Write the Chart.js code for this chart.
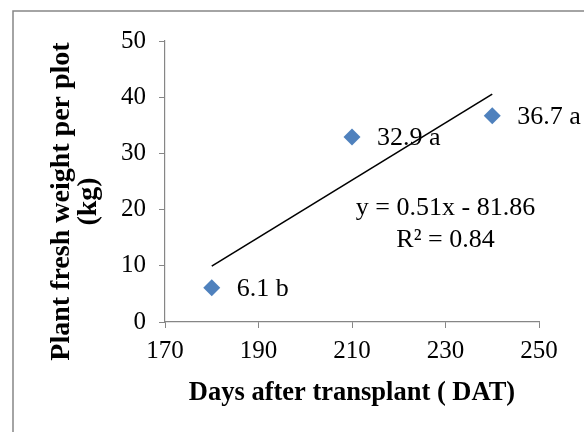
<!DOCTYPE html>
<html>
<head>
<meta charset="utf-8">
<script src="https://cdn.jsdelivr.net/npm/chart.js@4.4.0/dist/chart.umd.min.js"></script>
<style>
html,body{margin:0;padding:0;background:#fff;}
canvas{display:block;}
</style>
</head>
<body>
<canvas id="c" width="584" height="432"></canvas>
<script>
// ---- data ----
const daysAfterTransplant = [180, 210, 240];
const freshWeight = [6.1, 32.9, 36.7];
const pointLabels = ['6.1 b', '32.9 a', '36.7 a'];
const trendX = [180, 240];
const trendY = [9.94, 40.54];
const xTicks = [170, 190, 210, 230, 250];
const yTicks = [0, 10, 20, 30, 40, 50];
const equationLines = ['y = 0.51x - 81.86', 'R² = 0.84'];
const xTitle = 'Days after transplant ( DAT)';
const yTitleLines = ['Plant fresh weight per plot', '(kg)'];

const SERIF = '"Liberation Serif", "Times New Roman", serif';
const AXIS_GRAY = '#868686';

const framePlugin = {
  id: 'frame',
  beforeDraw(chart) {
    const ctx = chart.ctx;
    ctx.save();
    ctx.strokeStyle = AXIS_GRAY;
    ctx.lineWidth = 1.5;
    ctx.strokeRect(13, 11, 700, 600);
    ctx.restore();
  }
};

const textPlugin = {
  id: 'texts',
  afterDatasetsDraw(chart) {
    const ctx = chart.ctx;
    const xs = chart.scales.x, ys = chart.scales.y;
    ctx.save();
    ctx.fillStyle = '#000';
    // data labels
    ctx.font = '26px ' + SERIF;
    ctx.textAlign = 'left';
    ctx.textBaseline = 'middle';
    const meta = chart.getDatasetMeta(1);
    meta.data.forEach((pt, i) => {
      ctx.fillText(pointLabels[i], pt.x + 25, pt.y + 1);
    });
    // equation
    ctx.textAlign = 'center';
    ctx.fillText(equationLines[0], xs.getPixelForValue(230), ys.getPixelForValue(20.2));
    ctx.fillText(equationLines[1], xs.getPixelForValue(230), ys.getPixelForValue(14.5));
    // y title
    ctx.font = 'bold 28px ' + SERIF;
    const cy = (ys.top + ys.bottom) / 2 + 20;
    ctx.translate(0, cy);
    ctx.rotate(-Math.PI / 2);
    ctx.fillText(yTitleLines[0], 0, 62);
    ctx.fillText(yTitleLines[1], 0, 89);
    ctx.restore();
  }
};

new Chart(document.getElementById('c'), {
  type: 'scatter',
  data: {
    datasets: [
      {
        type: 'line',
        data: trendX.map((x, i) => ({x: x, y: trendY[i]})),
        borderColor: '#000',
        borderWidth: 1.6,
        pointRadius: 0,
        fill: false
      },
      {
        data: daysAfterTransplant.map((x, i) => ({x: x, y: freshWeight[i]})),
        pointStyle: 'rectRot',
        pointRadius: 8.5,
        backgroundColor: '#4F81BD',
        borderColor: '#4F81BD',
        borderWidth: 0
      }
    ]
  },
  options: {
    responsive: false,
    animation: false,
    layout: {padding: {left: 0, right: 45, top: 41, bottom: 0}},
    plugins: {legend: {display: false}, tooltip: {enabled: false}},
    scales: {
      x: {
        type: 'linear',
        min: 170, max: 250,
        afterBuildTicks(s) { s.ticks = xTicks.map(v => ({value: v})); },
        ticks: {color: '#000', font: {family: SERIF, size: 25}, padding: 8, maxRotation: 0},
        grid: {drawOnChartArea: false, drawTicks: true, tickLength: 6, color: AXIS_GRAY},
        border: {color: AXIS_GRAY, width: 1.2},
        title: {display: true, text: xTitle, color: '#000', font: {family: SERIF, size: 26.5, weight: 'bold'}, padding: {top: 0, bottom: 23}},
        afterFit(s) { s.height = 110; }
      },
      y: {
        type: 'linear',
        min: 0, max: 50,
        afterBuildTicks(s) { s.ticks = yTicks.map(v => ({value: v})); },
        ticks: {color: '#000', font: {family: SERIF, size: 25}, padding: 13},
        grid: {drawOnChartArea: false, drawTicks: true, tickLength: 6, color: AXIS_GRAY},
        border: {color: AXIS_GRAY, width: 1.2},
        afterFit(s) { s.width = 165; }
      }
    }
  },
  plugins: [framePlugin, textPlugin]
});
</script>
</body>
</html>
